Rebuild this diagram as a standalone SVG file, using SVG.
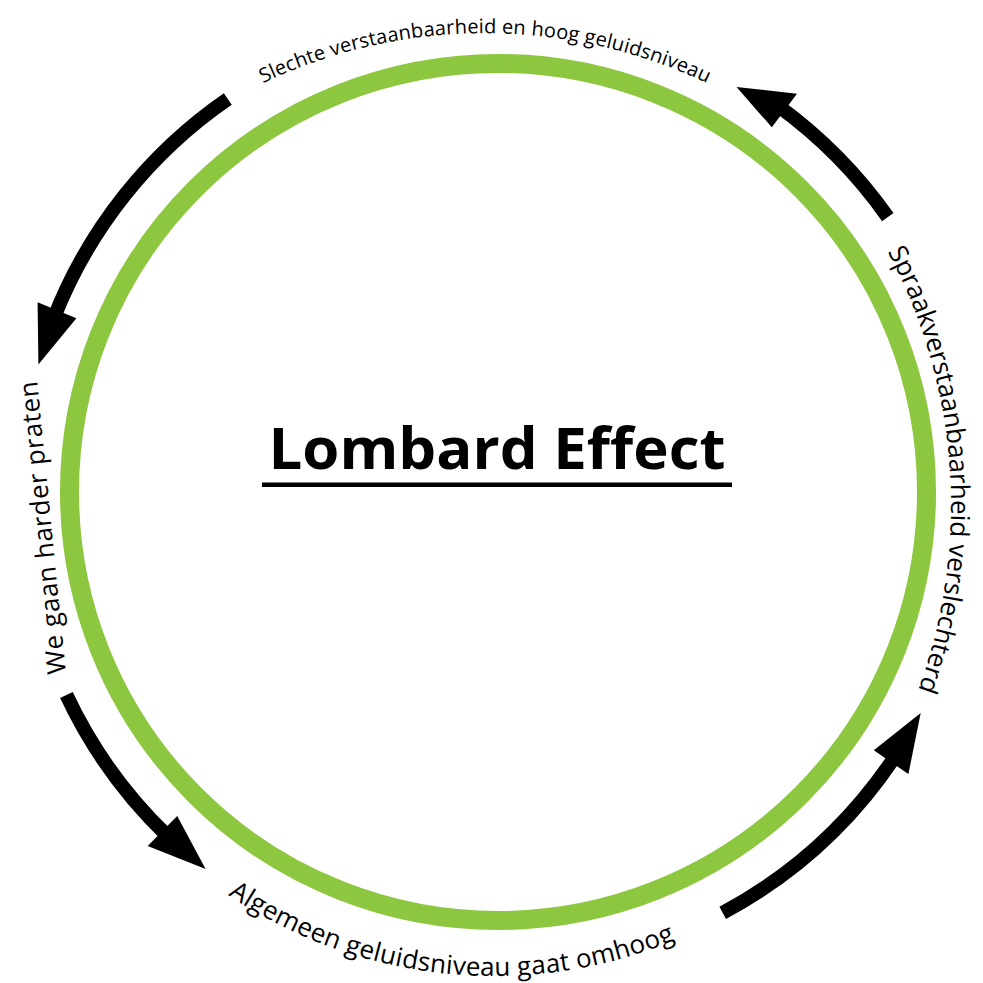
<svg xmlns="http://www.w3.org/2000/svg" width="983" height="983" viewBox="0 0 983 983">
  <style>
    .lbl { font-family: "Open Sans", "Noto Sans", "Liberation Sans", sans-serif; fill: #000; }
    .title { font-family: "Open Sans", "Noto Sans", "Liberation Sans", sans-serif; font-weight: bold; fill: #000; }
    .shaft { fill: none; stroke: #000; stroke-width: 14; stroke-linecap: butt; }
    .head { fill: #000; stroke: none; }
  </style>
  <defs>
    <path id="pTop" d="M -33 551 A 518 518 0 0 1 1003 551"/>
    <path id="pRight" d="M 413 -33 A 538 538 0 0 1 413 1043"/>
    <path id="pBottom" d="M 18 500 A 476 476 0 0 0 970 500"/>
    <path id="pLeft" d="M 66 674 L 37 380"/>
  </defs>
  <rect width="983" height="983" fill="#fff"/>

  <g id="ring">
    <circle cx="498" cy="492" r="428.5" fill="none" stroke="#8dc63f" stroke-width="19"/>
  </g>

  <g id="title">
    <text class="title" x="497" y="469" font-size="58" text-anchor="middle" textLength="457" lengthAdjust="spacingAndGlyphs">Lombard Effect</text>
    <rect x="262" y="482.5" width="470" height="4.5" fill="#000"/>
  </g>

  <g id="label-top">
    <text class="lbl" font-size="20"><textPath href="#pTop" startOffset="50%" text-anchor="middle" textLength="459">Slechte verstaanbaarheid en hoog geluidsniveau</textPath></text>
  </g>
  <g id="label-right">
    <text class="lbl" font-size="26"><textPath href="#pRight" startOffset="807.5" text-anchor="middle" textLength="453">Spraakverstaanbaarheid verslechterd</textPath></text>
  </g>
  <g id="label-bottom">
    <text class="lbl" font-size="26"><textPath href="#pBottom" startOffset="699.5" text-anchor="middle" textLength="468">Algemeen geluidsniveau gaat omhoog</textPath></text>
  </g>
  <g id="label-left">
    <text class="lbl" font-size="26"><textPath href="#pLeft" startOffset="50%" text-anchor="middle" textLength="294">We gaan harder praten</textPath></text>
  </g>

  <g id="connectors">
    <g id="arrow-top-left">
      <path class="shaft" d="M 227.8 98.9 A 477 477 0 0 0 54.2 317.2"/>
      <polygon class="head" points="37.6,302.2 76.4,318.2 38.4,364.5"/>
    </g>
    <g id="arrow-left-bottom">
      <path class="shaft" d="M 66.4 695.1 A 477 477 0 0 0 168.4 836.9"/>
      <polygon class="head" points="147.7,846.0 177.2,816.1 205.6,868.9"/>
    </g>
    <g id="arrow-bottom-right">
      <path class="shaft" d="M 722.7 912.8 A 477 477 0 0 0 895.8 755.3"/>
      <polygon class="head" points="908.4,774.1 873.8,750.3 920.7,713.0"/>
    </g>
    <g id="arrow-right-top">
      <path class="shaft" d="M 887.8 217.1 A 477 477 0 0 0 778.4 106.1"/>
      <polygon class="head" points="797.0,93.8 771.8,127.3 736.5,87.0"/>
    </g>
  </g>
</svg>
